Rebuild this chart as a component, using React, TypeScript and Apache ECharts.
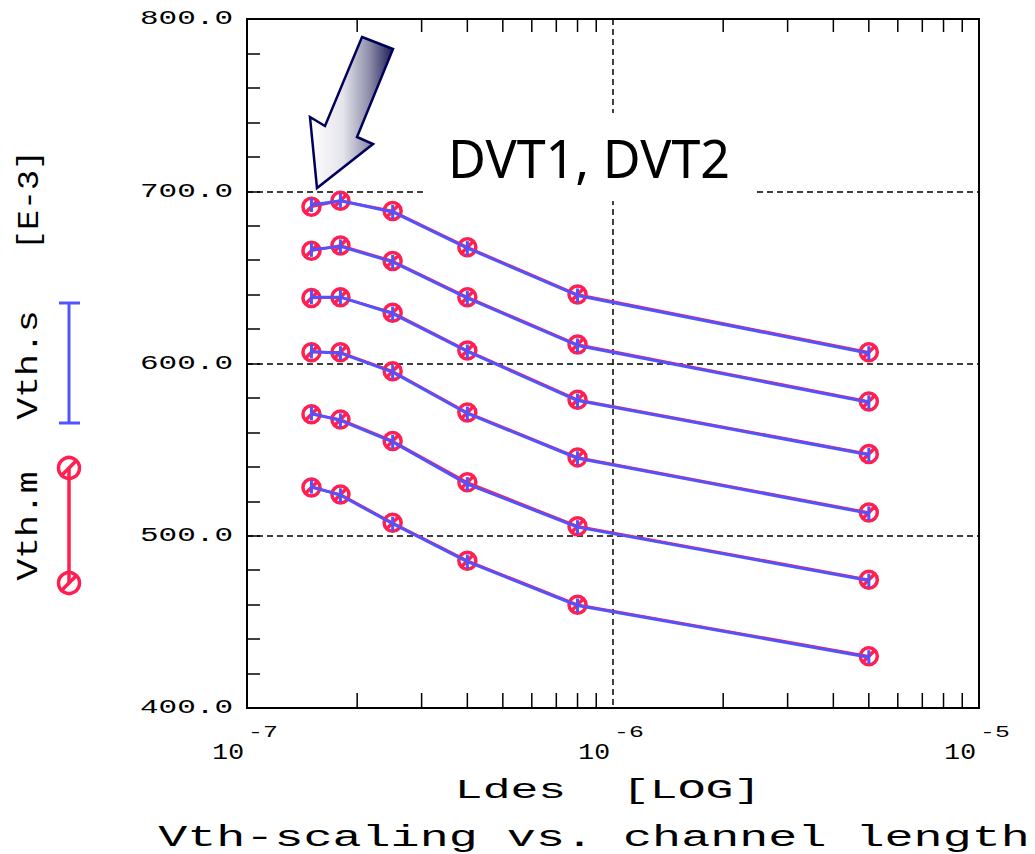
import React, { useEffect, useRef } from "react";
import * as echarts from "echarts";

// ---- data ----
const lengths = [1.5e-7, 1.8e-7, 2.5e-7, 4e-7, 8e-7, 5e-6];

// measured (Vth.m), mV
const vthM1 = [691, 694.5, 688.5, 667.5, 640, 606.5];
const vthM2 = [665.5, 668.5, 659.5, 638.5, 611, 578];
const vthM3 = [638, 638.5, 629.5, 607.5, 579, 547.5];
const vthM4 = [606.5, 606.5, 595.5, 571.5, 545.5, 513.5];
const vthM5 = [570.5, 567.5, 555, 531, 505.5, 474.5];
const vthM6 = [528, 524, 507.5, 485.5, 460, 430];

// simulated (Vth.s), mV
const vthS1 = [692, 694.5, 688, 667, 639.5, 606];
const vthS2 = [666, 668, 659, 638, 610.5, 577.5];
const vthS3 = [638.5, 638.5, 629, 607, 578.5, 547];
const vthS4 = [607, 606, 595, 571, 545, 513];
const vthS5 = [571, 567, 554.5, 530, 505, 474];
const vthS6 = [528.5, 523.5, 507, 485, 459.5, 429.5];

const measured = [vthM1, vthM2, vthM3, vthM4, vthM5, vthM6];
const simulated = [vthS1, vthS2, vthS3, vthS4, vthS5, vthS6];

const yTicks = [400, 500, 600, 700, 800];
const yTickLabels = ["400.0", "500.0", "600.0", "700.0", "800.0"];
const xDecades = [1e-7, 1e-6, 1e-5];
const xDecadeBase = ["10", "10", "10"];
const xDecadeExp = ["-7", "-6", "-5"];
const xMinorTicks = [
  2e-7, 3e-7, 4e-7, 5e-7, 6e-7, 7e-7, 8e-7, 9e-7,
  2e-6, 3e-6, 4e-6, 5e-6, 6e-6, 7e-6, 8e-6, 9e-6,
];

const titleText = "Vth-scaling vs. channel length";
const xAxisName = "Ldes  [LOG]";
const yUnit = "[E-3]";
const legendM = "Vth.m";
const legendS = "Vth.s";
const note = "DVT1, DVT2";

const RED = "#ff1f50";
const BLUE = "#5252ff";
const MONO = "'Liberation Mono', 'DejaVu Sans Mono', monospace";

const circleSlash =
  "path://M2,10 A8,8 0 1,1 18,10 A8,8 0 1,1 2,10 Z M4.6,15.4 L15.4,4.6";

export default function App() {
  const ref = useRef<HTMLDivElement>(null);

  useEffect(() => {
    if (!ref.current) return;
    const chart = echarts.init(ref.current, undefined, { renderer: "svg" });

    const series: any[] = [];
    measured.forEach((arr, k) => {
      series.push({
        type: "line",
        name: legendM + k,
        data: lengths.map((x, i) => [x, arr[i]]),
        symbol: circleSlash,
        symbolSize: 17,
        showSymbol: true,
        lineStyle: { color: RED, width: 2.5 },
        itemStyle: { color: "rgba(0,0,0,0)", borderColor: RED, borderWidth: 3.5 },
        z: 3,
        silent: true,
      });
    });
    simulated.forEach((arr, k) => {
      series.push({
        type: "line",
        name: legendS + k,
        data: lengths.map((x, i) => [x, arr[i]]),
        symbol: "rect",
        symbolSize: [3, 14],
        lineStyle: { color: BLUE, width: 3 },
        itemStyle: { color: BLUE },
        z: 4,
        silent: true,
      });
    });
    series.push({
      type: "custom",
      silent: true,
      clip: false,
      z: 5,
      data: xMinorTicks.map((v) => [v, yTicks[0]]),
      encode: { x: 0, y: 1 },
      renderItem: (params: any, api: any) => {
        const x = api.value(0);
        const b = api.coord([x, yTicks[0]]);
        const t = api.coord([x, yTicks[yTicks.length - 1]]);
        const st = { stroke: "#000", lineWidth: 1.5 };
        return {
          type: "group",
          children: [
            { type: "line", shape: { x1: b[0], y1: b[1], x2: b[0], y2: b[1] - 15 }, style: st },
            { type: "line", shape: { x1: t[0], y1: t[1], x2: t[0], y2: t[1] + 13 }, style: st },
          ],
        };
      },
    });

    const dashed = { color: "#000", width: 1.5, type: [6, 4] as any };

    chart.setOption({
      animation: false,
      backgroundColor: "#fff",
      grid: {
        left: 247,
        top: 19,
        width: 732,
        height: 689,
        show: true,
        borderColor: "#000",
        borderWidth: 2,
        backgroundColor: "transparent",
      },
      xAxis: {
        type: "log",
        logBase: 10,
        min: xDecades[0],
        max: xDecades[xDecades.length - 1],
        axisLine: { show: true, lineStyle: { color: "#000", width: 2 } },
        axisTick: { show: false },
        axisLabel: { show: false },
        splitLine: { show: true, lineStyle: dashed },
      },
      yAxis: {
        type: "value",
        min: yTicks[0],
        max: yTicks[yTicks.length - 1],
        interval: 100,
        axisLine: { show: true, lineStyle: { color: "#000", width: 2 } },
        axisTick: { show: true, inside: true, length: 13, lineStyle: { color: "#000", width: 1.5 } },
        minorTick: { show: true, splitNumber: 5, length: 13, lineStyle: { color: "#000", width: 1.5 } },
        axisLabel: { show: false },
        splitLine: { show: true, lineStyle: dashed },
      },
      series,
    });

    const px = (x: number, y: number) =>
      chart.convertToPixel({ gridIndex: 0 }, [x, y]) as number[];

    const elements: any[] = [];

    // y tick labels
    yTicks.forEach((v, i) => {
      const p = px(xDecades[0], v);
      elements.push({
        type: "text",
        x: p[0] - 14,
        y: p[1],
        scaleX: 1.55,
        style: {
          text: yTickLabels[i],
          font: `20px ${MONO}`,
          fill: "#000",
          align: "right",
          verticalAlign: "middle",
        },
      });
    });

    // x decade labels
    xDecades.forEach((v, i) => {
      const p = px(v, yTicks[0]);
      elements.push({
        type: "text",
        x: p[0] - 3,
        y: p[1] + 45,
        scaleX: 1.2,
        style: {
          text: xDecadeBase[i],
          font: `22px ${MONO}`,
          fill: "#000",
          align: "right",
          verticalAlign: "middle",
        },
      });
      elements.push({
        type: "text",
        x: p[0] + 1,
        y: p[1] + 25,
        scaleX: 1.55,
        style: {
          text: xDecadeExp[i],
          font: `16px ${MONO}`,
          fill: "#000",
          align: "left",
          verticalAlign: "middle",
        },
      });
    });

    // axis name and title
    elements.push({
      type: "text",
      x: 608,
      y: 791,
      scaleX: 1.72,
      style: { text: xAxisName, font: `27px ${MONO}`, fill: "#000", align: "center", verticalAlign: "middle" },
    });
    elements.push({
      type: "text",
      x: 594,
      y: 838,
      scaleX: 1.67,
      style: { text: titleText, font: `29px ${MONO}`, fill: "#000", align: "center", verticalAlign: "middle" },
    });

    // left rotated legend texts
    const rotText = (t: string, cy: number, sx: number) => ({
      type: "text",
      x: 30,
      y: cy,
      rotation: Math.PI / 2,
      scaleX: sx,
      style: { text: t, font: `29px ${MONO}`, fill: "#000", align: "center", verticalAlign: "middle" },
    });
    elements.push(rotText(yUnit, 200, 1.15));
    elements.push(rotText(legendS, 365, 1.26));
    elements.push(rotText(legendM, 526, 1.26));

    // blue I-beam legend symbol
    const bst = { stroke: BLUE, lineWidth: 3 };
    elements.push({ type: "line", shape: { x1: 69, y1: 303, x2: 69, y2: 423 }, style: bst });
    elements.push({ type: "line", shape: { x1: 59, y1: 303, x2: 80, y2: 303 }, style: bst });
    elements.push({ type: "line", shape: { x1: 59, y1: 423, x2: 80, y2: 423 }, style: bst });

    // red legend symbol
    const rst = { stroke: RED, lineWidth: 3.5, fill: "none" };
    elements.push({ type: "line", shape: { x1: 69, y1: 468, x2: 69, y2: 583 }, style: rst });
    [468, 583].forEach((cy) => {
      elements.push({ type: "circle", shape: { cx: 69, cy, r: 10.5 }, style: rst });
      elements.push({ type: "line", shape: { x1: 62, y1: cy + 7, x2: 76, y2: cy - 7 }, style: rst });
    });

    // white box behind annotation
    elements.push({
      type: "rect",
      z: 10,
      shape: { x: 427, y: 113, width: 328, height: 88 },
      style: { fill: "#fff" },
    });
    elements.push({
      type: "text",
      z: 11,
      x: 448,
      y: 157,
      style: {
        text: note,
        font: "52px 'Noto Sans', 'DejaVu Sans', sans-serif",
        fill: "#000",
        align: "left",
        verticalAlign: "middle",
      },
    });

    // arrow
    elements.push({
      type: "polygon",
      z: 11,
      shape: {
        points: [
          [362, 37],
          [393, 49],
          [357, 137],
          [373, 144],
          [317, 188],
          [310, 117],
          [325, 126],
        ],
      },
      style: {
        fill: {
          type: "linear",
          x: 310,
          y: 0,
          x2: 393,
          y2: 0,
          global: true,
          colorStops: [
            { offset: 0, color: "#ffffff" },
            { offset: 0.4, color: "#e4e4ec" },
            { offset: 0.72, color: "#8c8ca8" },
            { offset: 1, color: "#1c1c58" },
          ],
        },
        stroke: "#00005a",
        lineWidth: 2.5,
      },
    });

    chart.setOption({ graphic: { elements } });

    return () => chart.dispose();
  }, []);

  return (
    <div
      ref={ref}
      style={{ position: "absolute", left: 0, top: 0, width: 1035, height: 854, background: "#fff" }}
    />
  );
}
